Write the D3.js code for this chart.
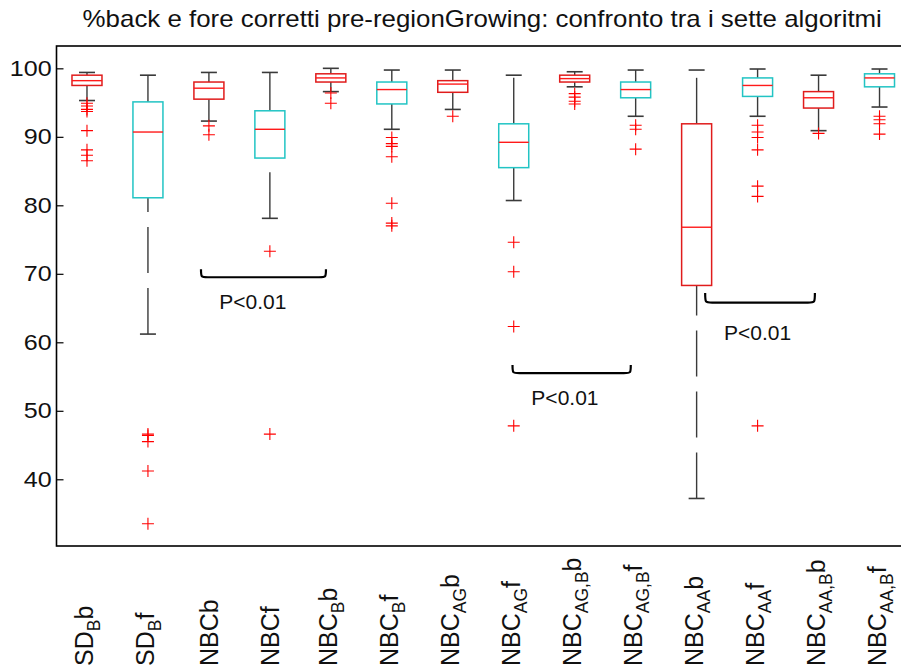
<!DOCTYPE html>
<html>
<head>
<meta charset="utf-8">
<script src="https://cdn.jsdelivr.net/npm/d3@7"></script>
<style>
  body { margin: 0; background: #fff; }
  svg { display: block; }
  text { font-family: "Liberation Sans", Arial, Helvetica, sans-serif; fill: #111; }
</style>
</head>
<body>
<svg id="chart" width="901" height="671"></svg>
<script>
// ---- data ---------------------------------------------------------------
const boxIds     = ["SDBb", "SDBf", "NBCb", "NBCf", "NBCBb", "NBCBf", "NBCAGb", "NBCAGf",
                    "NBCAGBb", "NBCAGBf", "NBCAAb", "NBCAAf", "NBCAABb", "NBCAABf"];
const labelMain  = ["SD", "SD", "NBCb", "NBCf", "NBC", "NBC", "NBC", "NBC",
                    "NBC", "NBC", "NBC", "NBC", "NBC", "NBC"];
const labelSub   = ["B", "B", "", "", "B", "B", "AG", "AG", "AG,B", "AG,B", "AA", "AA", "AA,B", "AA,B"];
const labelTail  = ["b", "f", "", "", "b", "f", "b", "f", "b", "f", "b", "f", "b", "f"];
const boxColor   = ["r", "c", "r", "c", "r", "c", "r", "c", "r", "c", "r", "c", "r", "c"];

const whiskerHigh   = [99.4, 99.0, 99.4, 99.4, 100.0, 99.75, 99.75, 99.0, 99.5, 99.75, 99.75, 99.9, 99.0, 99.9];
const upperQuartile = [99.0, 95.1, 98.0, 93.8, 99.2, 98.0, 98.2, 91.9, 99.0, 98.0, 91.9, 98.6, 96.6, 99.2];
const medians       = [98.2, 90.7, 97.1, 91.1, 98.6, 96.9, 97.7, 89.2, 98.5, 96.9, 76.8, 97.5, 95.7, 98.6];
const lowerQuartile = [97.5, 81.1, 95.5, 86.9, 98.0, 94.8, 96.5, 85.5, 98.0, 95.7, 68.3, 95.9, 94.2, 97.3];
const whiskerLow    = [95.3, 61.2, 92.3, 78.1, 96.6, 91.1, 94.0, 80.7, 97.3, 93.0, 37.2, 93.0, 90.9, 94.35];
const outliers = [
  [94.9, 94.5, 94.0, 93.7, 90.9, 88.1, 87.3, 86.5],
  [46.6, 46.4, 45.5, 41.2, 33.5],
  [91.6, 90.3],
  [73.3, 46.6],
  [96.4, 94.9],
  [89.9, 89.0, 88.6, 87.1, 80.3, 77.4, 77.0],
  [93.0],
  [74.6, 70.3, 62.3, 47.8],
  [96.3, 95.8, 95.2, 94.8],
  [91.7, 91.1, 88.2],
  [],
  [91.7, 90.7, 89.9, 88.1, 82.8, 81.3, 47.8],
  [90.5],
  [93.0, 92.5, 91.9, 90.4]
];
const yTicks = [40, 50, 60, 70, 80, 90, 100];

// significance brackets (box index units / data units)
const bracketFrom  = [2.87, 7.98, 11.14];
const bracketTo    = [4.92, 9.92, 12.94];
const bracketLevel = [69.5, 55.5, 65.8];
const bracketTip   = [70.66, 56.7, 67.2];
const bracketText  = ["P<0.01", "P<0.01", "P<0.01"];
const bracketTextX = [3.72, 8.84, 12.0];
const bracketTextY = [64.8, 50.8, 60.4];

const titleText = "%back e fore corretti pre-regionGrowing: confronto tra i sette algoritmi";

// ---- layout -------------------------------------------------------------
const plot = { left: 56.5, right: 910, top: 46, bottom: 546 };
const colors = { r: "#e01c1c", c: "#22c4c4" };
const medianColor = "#ff1a1a";
const whiskerColor = "#3a3a3a";

const svg = d3.select("#chart");

const x = d3.scalePoint().domain(boxIds).range([plot.left, plot.right]).padding(0.5);
const y = d3.scaleLinear().domain([30.26, 103.26]).range([plot.bottom, plot.top]);
const pos = d3.scaleLinear().domain([1, boxIds.length])
  .range([x(boxIds[0]), x(boxIds[boxIds.length - 1])]);

const boxW = 30, capW = 16, crossR = 6;

// frame
svg.append("rect")
  .attr("x", plot.left).attr("y", plot.top)
  .attr("width", plot.right - plot.left).attr("height", plot.bottom - plot.top)
  .attr("fill", "none").attr("stroke", "#000").attr("stroke-width", 1.6);

// y axis with inward ticks
const yAxis = svg.append("g")
  .attr("transform", `translate(${plot.left},0)`)
  .call(d3.axisLeft(y).tickValues(yTicks).tickSizeInner(-7).tickSizeOuter(0).tickPadding(5));
yAxis.select(".domain").remove();
yAxis.selectAll(".tick line").attr("stroke", "#000").attr("stroke-width", 1.2);
yAxis.selectAll(".tick text")
  .attr("x", 0)
  .attr("transform", "translate(-4.8,0) scale(1.14,1)")
  .attr("font-size", 22)
  .attr("font-family", "Liberation Sans, Arial, sans-serif")
  .attr("fill", "#111");

// title
svg.append("text")
  .attr("transform", `translate(${(plot.left + plot.right) / 2 - 1},27.3) scale(1.125,1)`)
  .attr("text-anchor", "middle")
  .attr("font-size", 23)
  .text(titleText);

// boxes
const boxes = svg.append("g").selectAll("g").data(boxIds).join("g")
  .attr("transform", d => `translate(${x(d)},0)`);

// whiskers: dashed, drawn from the low end upwards
boxes.append("line")
  .attr("y1", (d, i) => y(whiskerLow[i])).attr("y2", (d, i) => y(lowerQuartile[i]))
  .attr("stroke", whiskerColor).attr("stroke-width", 1.4).attr("stroke-dasharray", "46,15");
boxes.append("line")
  .attr("y1", (d, i) => y(upperQuartile[i])).attr("y2", (d, i) => y(whiskerHigh[i]))
  .attr("stroke", whiskerColor).attr("stroke-width", 1.4).attr("stroke-dasharray", "46,15");
// caps
boxes.append("line")
  .attr("x1", -capW / 2).attr("x2", capW / 2)
  .attr("y1", (d, i) => y(whiskerLow[i])).attr("y2", (d, i) => y(whiskerLow[i]))
  .attr("stroke", whiskerColor).attr("stroke-width", 1.6);
boxes.append("line")
  .attr("x1", -capW / 2).attr("x2", capW / 2)
  .attr("y1", (d, i) => y(whiskerHigh[i])).attr("y2", (d, i) => y(whiskerHigh[i]))
  .attr("stroke", whiskerColor).attr("stroke-width", 1.6);
// box body
boxes.append("rect")
  .attr("x", -boxW / 2).attr("width", boxW)
  .attr("y", (d, i) => y(upperQuartile[i]))
  .attr("height", (d, i) => y(lowerQuartile[i]) - y(upperQuartile[i]))
  .attr("fill", "#fff")
  .attr("stroke", (d, i) => colors[boxColor[i]]).attr("stroke-width", 1.5);
// median
boxes.append("line")
  .attr("x1", -boxW / 2).attr("x2", boxW / 2)
  .attr("y1", (d, i) => y(medians[i])).attr("y2", (d, i) => y(medians[i]))
  .attr("stroke", medianColor).attr("stroke-width", 1.4);
// outliers as '+'
boxes.each(function (d, i) {
  d3.select(this).selectAll("path.out").data(outliers[i]).join("path")
    .attr("class", "out")
    .attr("d", v => `M${-crossR},${y(v)}H${crossR}M0,${y(v) - crossR}V${y(v) + crossR}`)
    .attr("stroke", "#ff0000").attr("stroke-width", 1.1).attr("fill", "none");
});

// x labels, rotated, with subscripts
const labelBase = 666;
boxIds.forEach((id, i) => {
  const cx = x(id);
  const t = svg.append("text")
    .attr("text-anchor", "start")
    .attr("font-size", 25);
  t.append("tspan").text(labelMain[i]);
  if (labelSub[i]) {
    t.append("tspan").attr("font-size", 17.5).attr("dy", 7).text(labelSub[i]);
    t.append("tspan").attr("dy", -7).text(labelTail[i]);
  }
  t.attr("transform", `translate(${cx},${labelBase}) rotate(-90)`);
  const bb = t.node().getBBox();
  const mid = bb.y + bb.height / 2;
  t.attr("transform", `translate(${cx - mid},${labelBase}) rotate(-90)`);
});

// significance brackets
const r = 7;
bracketFrom.forEach((f, i) => {
  const x1 = pos(f), x2 = pos(bracketTo[i]);
  const yb = y(bracketLevel[i]), yt = y(bracketTip[i]);
  svg.append("path")
    .attr("d", `M${x1},${yt} C${x1},${yb} ${x1},${yb} ${x1 + r},${yb} L${x2 - r},${yb} C${x2},${yb} ${x2},${yb} ${x2},${yt}`)
    .attr("fill", "none").attr("stroke", "#000").attr("stroke-width", 2.2);
  svg.append("text")
    .attr("x", pos(bracketTextX[i])).attr("y", y(bracketTextY[i]))
    .attr("text-anchor", "middle").attr("font-size", 21)
    .text(bracketText[i]);
});
</script>
</body>
</html>
